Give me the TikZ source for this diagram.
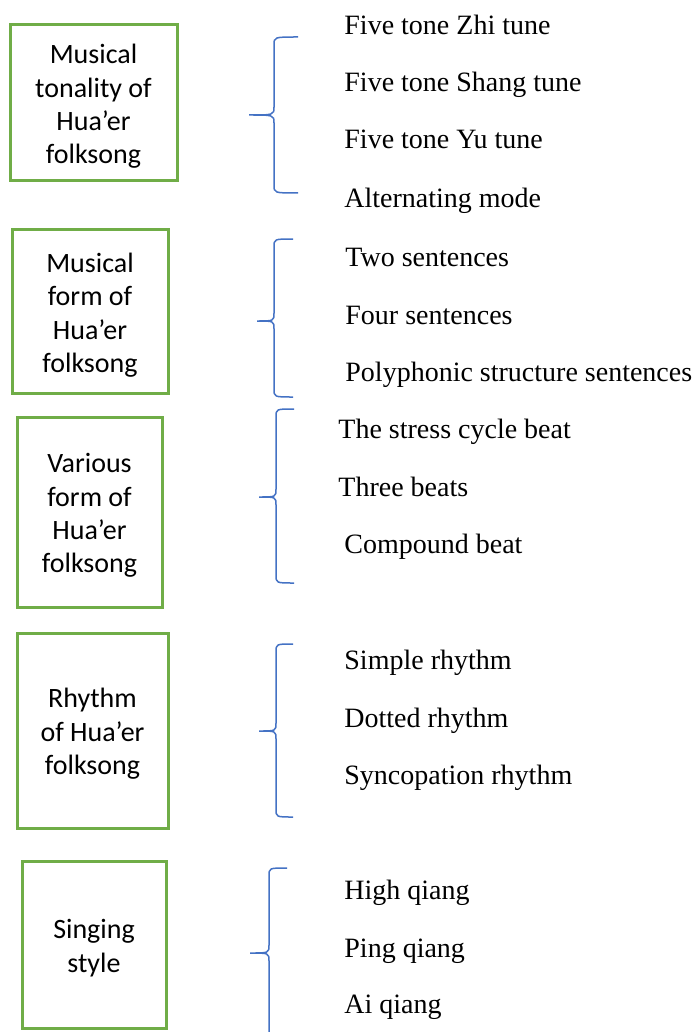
\documentclass[tikz,border=0pt]{standalone}
\usepackage{fontspec}
\setmainfont{Liberation Serif}
\newfontfamily\boxfont{Carlito}
\usetikzlibrary{positioning}

\definecolor{boxgreen}{RGB}{112,173,71}
\definecolor{braceblue}{RGB}{68,114,196}

\begin{document}
\begin{tikzpicture}[x=0.5pt,y=-0.5pt,
    topic/.style={draw=boxgreen,line width=1.5pt,inner sep=0pt},
    boxtext/.style={inner sep=0pt,align=center,yshift=-1.75pt,
        font=\boxfont\fontsize{14}{16.7}\selectfont},
    item/.style={anchor=base west,inner sep=0pt,font=\fontsize{14}{17}\selectfont},
    bracket/.style={draw=braceblue,line width=0.75pt}]
    \useasboundingbox (0,0) rectangle (693,1032);

    % left boxes
    \node[topic,minimum width=83.5pt,minimum height=78pt,
        label={[boxtext]center:Musical\\tonality of\\Hua’er\\folksong}] (tonality) at (93.5,103) {};
    \node[topic,minimum width=78pt,minimum height=81.5pt,
        label={[boxtext]center:Musical\\form of\\Hua’er\\folksong}] (form) at (90,311.5) {};
    \node[topic,minimum width=72.5pt,minimum height=95pt,
        label={[boxtext]center:Various\\form of\\Hua’er\\folksong}] (various) at (89.5,512) {};
    \node[topic,minimum width=75.5pt,minimum height=97.5pt,
        label={[boxtext]center:Rhythm\\of Hua’er\\folksong}] (rhythm) at (92.5,730.5) {};
    \node[topic,minimum width=72pt,minimum height=83.5pt,
        label={[boxtext]center:Singing\\style}] (singing) at (94,944.5) {};

    % braces
    \draw[bracket] (298,37) .. controls (274,37) .. (274,45) -- (274,107) .. controls (274,115) .. (249,115)
        .. controls (274,115) .. (274,123) -- (274,185) .. controls (274,193) .. (298,193);
    \draw[bracket] (293,239) .. controls (274,239) .. (274,247) -- (274,313) .. controls (274,321) .. (257,321)
        .. controls (274,321) .. (274,329) -- (274,389) .. controls (274,397) .. (293,397);
    \draw[bracket] (294,409) .. controls (276,409) .. (276,417) -- (276,489) .. controls (276,497) .. (259,497)
        .. controls (276,497) .. (276,505) -- (276,575) .. controls (276,583) .. (294,583);
    \draw[bracket] (293,644) .. controls (276,644) .. (276,652) -- (276,723) .. controls (276,731) .. (259,731)
        .. controls (276,731) .. (276,739) -- (276,809) .. controls (276,817) .. (293,817);
    \draw[bracket] (287,868) .. controls (269,868) .. (269,876) -- (269,945) .. controls (269,953) .. (250,953)
        .. controls (269,953) .. (269,961) -- (269,1032);

    % items
    \node[item] (zhi) at (344,35) {Five tone Zhi tune};
    \node[item] (shang) at (344,92) {Five tone Shang tune};
    \node[item] (yu) at (344,149) {Five tone Yu tune};
    \node[item] (alternating) at (344,207) {Alternating mode};

    \node[item] (two) at (345,266) {Two sentences};
    \node[item] (four) at (345,324) {Four sentences};
    \node[item] (polyphonic) at (345,381) {Polyphonic structure sentences};

    \node[item] (stress) at (338,438) {The stress cycle beat};
    \node[item] (three) at (338,496) {Three beats};
    \node[item] (compound) at (344,553) {Compound beat};

    \node[item] (simple) at (344,669) {Simple rhythm};
    \node[item] (dotted) at (344,727) {Dotted rhythm};
    \node[item] (syncopation) at (344,784) {Syncopation rhythm};

    \node[item] (high) at (344,899) {High qiang};
    \node[item] (ping) at (344,957) {Ping qiang};
    \node[item] (ai) at (344,1013) {Ai qiang};
\end{tikzpicture}
\end{document}
